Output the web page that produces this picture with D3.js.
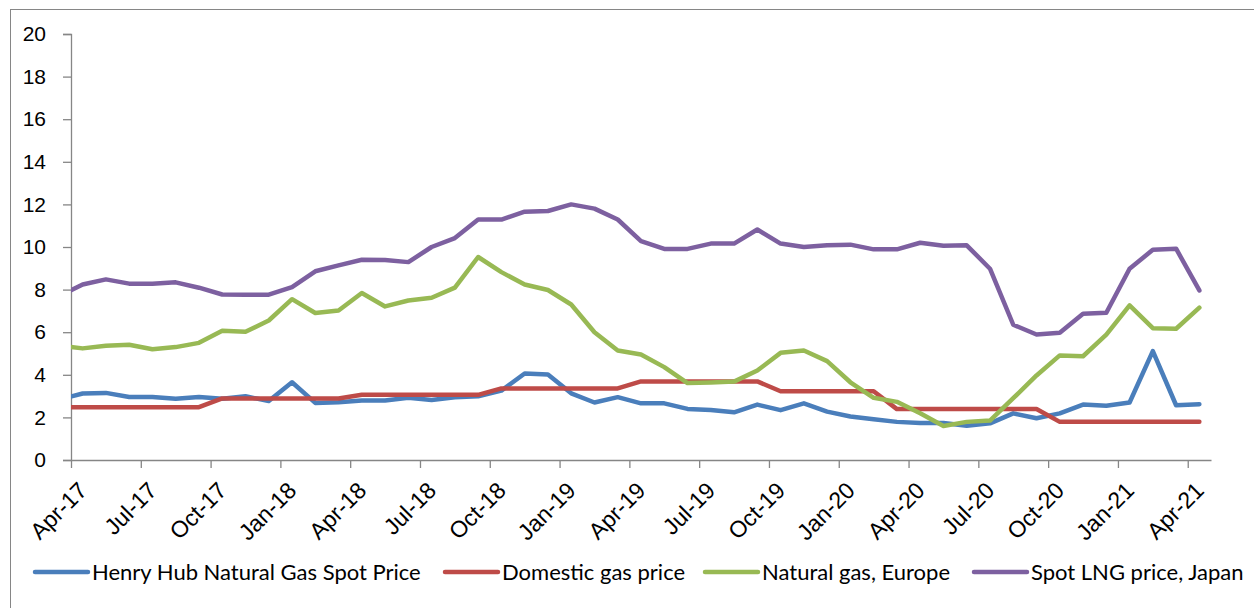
<!DOCTYPE html>
<html>
<head>
<meta charset="utf-8">
<script src="https://cdn.jsdelivr.net/npm/d3@7/dist/d3.min.js"></script>
<style>
  body { margin: 0; background: #fff; }
  svg { display: block; font-family: Lato, "Open Sans", sans-serif; }
</style>
</head>
<body>
<script>
// monthly points, first one (Mar-17) sits just left of the axis and gets clipped
const months = ['Mar-17','Apr-17','May-17','Jun-17','Jul-17','Aug-17','Sep-17','Oct-17','Nov-17','Dec-17',
  'Jan-18','Feb-18','Mar-18','Apr-18','May-18','Jun-18','Jul-18','Aug-18','Sep-18','Oct-18','Nov-18','Dec-18',
  'Jan-19','Feb-19','Mar-19','Apr-19','May-19','Jun-19','Jul-19','Aug-19','Sep-19','Oct-19','Nov-19','Dec-19',
  'Jan-20','Feb-20','Mar-20','Apr-20','May-20','Jun-20','Jul-20','Aug-20','Sep-20','Oct-20','Nov-20','Dec-20',
  'Jan-21','Feb-21','Mar-21','Apr-21'];

const henryHub = [2.84, 3.12, 3.15, 2.96, 2.96, 2.88, 2.96, 2.88, 2.99, 2.77,
  3.65, 2.68, 2.71, 2.79, 2.79, 2.92, 2.82, 2.95, 2.99, 3.26, 4.06, 4.01,
  3.13, 2.70, 2.95, 2.66, 2.66, 2.40, 2.35, 2.24, 2.60, 2.34, 2.66, 2.27,
  2.04, 1.91, 1.79, 1.74, 1.74, 1.61, 1.72, 2.19, 1.96, 2.19, 2.60, 2.55,
  2.70, 5.11, 2.57, 2.62];

const domestic = [2.48, 2.48, 2.48, 2.48, 2.48, 2.48, 2.48, 2.89, 2.89, 2.89,
  2.89, 2.89, 2.89, 3.06, 3.06, 3.06, 3.06, 3.06, 3.06, 3.36, 3.36, 3.36,
  3.36, 3.36, 3.36, 3.69, 3.69, 3.69, 3.69, 3.69, 3.69, 3.23, 3.23, 3.23,
  3.23, 3.23, 2.39, 2.39, 2.39, 2.39, 2.39, 2.39, 2.39, 1.79, 1.79, 1.79,
  1.79, 1.79, 1.79, 1.79];

const europe = [5.36, 5.24, 5.36, 5.41, 5.20, 5.30, 5.50, 6.07, 6.02, 6.55,
  7.55, 6.90, 7.02, 7.84, 7.21, 7.49, 7.62, 8.09, 9.53, 8.82, 8.24, 7.98,
  7.30, 6.00, 5.14, 4.95, 4.36, 3.61, 3.64, 3.68, 4.20, 5.03, 5.14, 4.64,
  3.65, 2.92, 2.73, 2.19, 1.60, 1.79, 1.85, 2.90, 3.97, 4.91, 4.87, 5.89,
  7.26, 6.19, 6.16, 7.15];

const japan = [7.70, 8.24, 8.48, 8.28, 8.28, 8.34, 8.09, 7.77, 7.76, 7.76,
  8.12, 8.86, 9.14, 9.40, 9.39, 9.29, 10.00, 10.42, 11.29, 11.29, 11.66, 11.69,
  12.00, 11.80, 11.29, 10.28, 9.91, 9.91, 10.16, 10.16, 10.82, 10.16, 10.00, 10.08,
  10.11, 9.89, 9.89, 10.20, 10.06, 10.08, 8.98, 6.35, 5.89, 5.97, 6.87, 6.91,
  8.98, 9.87, 9.92, 7.96];

const tickLabels = ['Apr-17','Jul-17','Oct-17','Jan-18','Apr-18','Jul-18','Oct-18','Jan-19','Apr-19',
  'Jul-19','Oct-19','Jan-20','Apr-20','Jul-20','Oct-20','Jan-21','Apr-21'];

const seriesNames = ['Henry Hub Natural Gas Spot Price', 'Domestic gas price', 'Natural gas, Europe', 'Spot LNG price, Japan'];
const seriesColors = ['#4a7ebb', '#be4b48', '#98b954', '#7d60a0'];

const width = 1254, height = 608;
const margin = { top: 34, right: 43, bottom: 148, left: 71 };

const svg = d3.select('body').append('svg')
  .attr('width', width)
  .attr('height', height);

// outer chart frame
svg.append('rect')
  .attr('x', 10.5).attr('y', 9.5)
  .attr('width', 1260).attr('height', 640)
  .attr('fill', 'none')
  .attr('stroke', '#868686');

// x: months since Apr-17, points sit mid-month
const xScale = d3.scaleLinear()
  .domain([0, 49])
  .range([margin.left, width - margin.right]);

const yScale = d3.scaleLinear()
  .domain([0, 20])
  .range([height - margin.bottom, margin.top]);

svg.append('defs').append('clipPath').attr('id', 'plot')
  .append('rect')
  .attr('x', margin.left).attr('y', 0)
  .attr('width', width - margin.right - margin.left + 20)
  .attr('height', height);

// Y-axis
const yAxis = svg.append('g')
  .attr('transform', `translate(${margin.left},0)`)
  .call(d3.axisLeft(yScale).tickValues(d3.range(0, 21, 2)).tickSize(8).tickPadding(17));
yAxis.selectAll('path, line').attr('stroke', '#868686').attr('stroke-width', 1.3);
yAxis.selectAll('text').attr('fill', '#000').style('font-size', '21px');

// X-axis
const xAxis = svg.append('g')
  .attr('transform', `translate(0,${yScale(0)})`)
  .call(d3.axisBottom(xScale)
    .tickValues(d3.range(0, 49, 3))
    .tickFormat((d, i) => tickLabels[i])
    .tickSize(8)
    .tickSizeOuter(0));
xAxis.selectAll('path, line').attr('stroke', '#868686').attr('stroke-width', 1.3);
xAxis.selectAll('text')
  .attr('fill', '#000')
  .style('font-size', '23px')
  .attr('x', 0).attr('y', 0).attr('dy', 0)
  .attr('text-anchor', 'end')
  .attr('transform', 'translate(17,32) rotate(-45)');

// lines
const allSeries = [henryHub, domestic, europe, japan];
const line = d3.line()
  .x((d, i) => xScale(i - 0.5))
  .y(d => yScale(d));

const lines = svg.append('g').attr('clip-path', 'url(#plot)');
allSeries.forEach((s, k) => {
  lines.append('path')
    .datum(s)
    .attr('d', line)
    .attr('fill', 'none')
    .attr('stroke', seriesColors[k])
    .attr('stroke-width', 4.5)
    .attr('stroke-linejoin', 'round')
    .attr('stroke-linecap', 'round');
});

// legend
const legendX = [35, 445, 705, 974];
const legend = svg.append('g').attr('transform', 'translate(0,572)');
seriesNames.forEach((name, k) => {
  legend.append('line')
    .attr('x1', legendX[k]).attr('x2', legendX[k] + 53)
    .attr('y1', 0).attr('y2', 0)
    .attr('stroke', seriesColors[k])
    .attr('stroke-width', 4.5)
    .attr('stroke-linecap', 'round');
  legend.append('text')
    .attr('x', legendX[k] + 57)
    .attr('y', 7.5)
    .style('font-size', '22px')
    .attr('fill', '#000')
    .text(name);
});
</script>
</body>
</html>
